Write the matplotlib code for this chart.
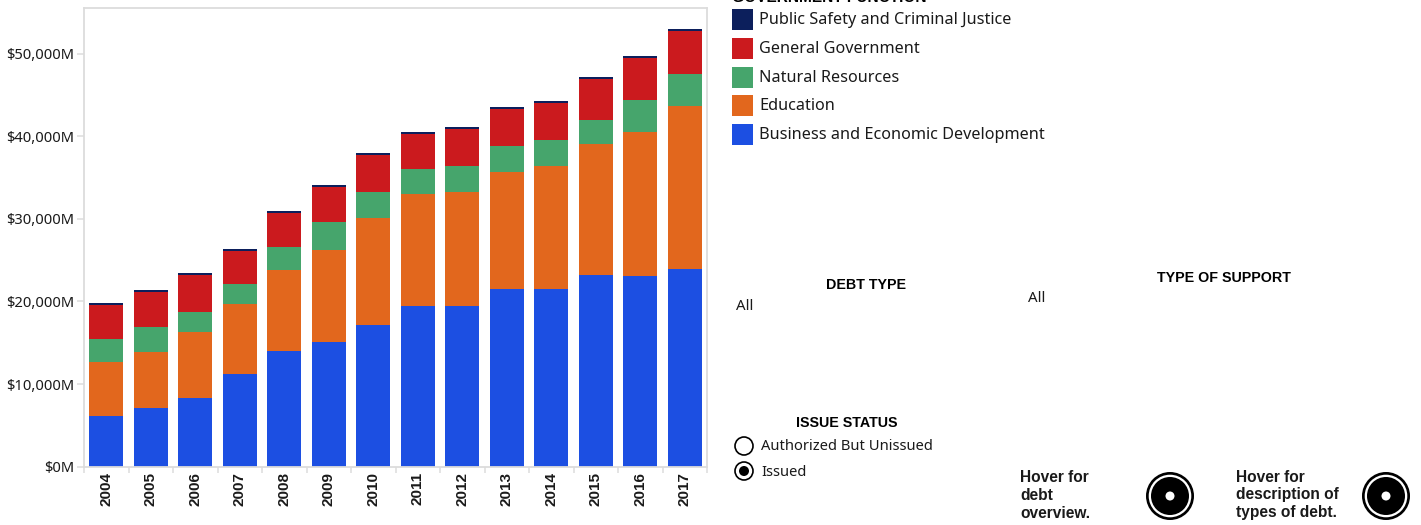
import matplotlib
matplotlib.use("Agg")
import matplotlib.pyplot as plt
from matplotlib.patches import Circle, Rectangle
import numpy as np

W, H = 1421, 525
plt.rcParams['font.family'] = ['Noto Sans', 'DejaVu Sans']
BOLD = "Liberation Sans"

years = [2004, 2005, 2006, 2007, 2008, 2009, 2010, 2011, 2012, 2013, 2014, 2015, 2016, 2017]
business = [6100, 7100, 8300, 11200, 14000, 15100, 17200, 19500, 19400, 21500, 21500, 23200, 23100, 23900]
education = [6600, 6800, 8000, 8500, 9800, 11100, 12900, 13500, 13900, 14200, 14900, 15900, 17400, 19800]
natural = [2700, 3000, 2400, 2400, 2800, 3400, 3200, 3000, 3100, 3100, 3200, 2900, 3900, 3900]
general = [4200, 4300, 4500, 4000, 4100, 4300, 4400, 4300, 4500, 4500, 4400, 4900, 5100, 5100]
public = [250, 250, 250, 250, 250, 250, 250, 250, 250, 250, 250, 250, 250, 250]

series = [("Business and Economic Development", business, "#1c4fe2"),
          ("Education", education, "#e2671d"),
          ("Natural Resources", natural, "#46a56c"),
          ("General Government", general, "#cb1a1e"),
          ("Public Safety and Criminal Justice", public, "#0c1f5c")]
yticks = [0, 10000, 20000, 30000, 40000, 50000]
legend_title = "GOVERNMENT FUNCTION"

FS = 11.7
TXT = "#1a1a1a"

fig = plt.figure(figsize=(W / 100, H / 100), dpi=100, facecolor="white")
L, R, T, B = 84, 707, 8, 466.7
ax = fig.add_axes([L / W, 1 - B / H, (R - L) / W, (B - T) / H])

x = np.arange(len(years))
bottom = np.zeros(len(years))
for name, vals, col in series:
    ax.bar(x, vals, 0.764, bottom=bottom, color=col, linewidth=0)
    bottom += np.array(vals)

ax.set_xlim(-0.5, len(years) - 0.5)
ax.set_ylim(0, 55530)
ax.set_yticks(yticks)
ax.set_yticklabels([f"${v:,}M" for v in yticks], fontsize=10.6, color=TXT)
ax.set_xticks(x)
ax.set_xticklabels(years, rotation=90, fontsize=11, fontweight="bold", color=TXT, family=BOLD)
ax.set_xticks(np.arange(-0.5, len(years)), minor=True)
ax.tick_params(axis="x", which="major", length=0, pad=4)
ax.tick_params(axis="x", which="minor", length=4, width=1.1, color="#dcdcdc")
ax.tick_params(axis="y", length=5, width=1.1, color="#dcdcdc", pad=2)
for s in ["left", "top", "bottom", "right"]:
    ax.spines[s].set_color("#dcdcdc")
    ax.spines[s].set_linewidth(1.3)

ov = fig.add_axes([0, 0, 1, 1], facecolor="none")
ov.set_xlim(0, W)
ov.set_ylim(H, 0)
ov.axis("off")

ov.text(732, 2, legend_title, fontsize=11.2, fontweight="bold", family=BOLD, ha="left", va="baseline", color="black", clip_on=True)
for (name, vals, col), yc in zip(series[::-1], [19, 48, 77, 105, 134]):
    ov.add_patch(Rectangle((732, yc - 10.5), 21, 21, color=col, lw=0))
    ov.text(759, yc + 1, name, fontsize=FS, va="center", ha="left", color=TXT)

for label, xc, yc in [("DEBT TYPE", 866, 285), ("TYPE OF SUPPORT", 1224, 278), ("ISSUE STATUS", 847, 423)]:
    ov.text(xc, yc, label, fontsize=10.3, fontweight="bold", family=BOLD, ha="center", va="center", color="black")
ov.text(736, 306, "All", fontsize=10.8, va="center", color=TXT)
ov.text(1028, 298.5, "All", fontsize=10.8, va="center", color=TXT)

for yc, label, sel in [(446, "Authorized But Unissued", False), (471, "Issued", True)]:
    ov.add_patch(Circle((744, yc), 9, fc="white", ec="black", lw=1.2))
    if sel:
        ov.add_patch(Circle((744, yc), 5, fc="black", lw=0))
    ov.text(761, yc + (0.5 if not sel else 1.5), label, fontsize=10.6, va="center", color=TXT)

for xt, xc, lines in [(1020, 1170, ["Hover for", "debt", "overview."]),
                      (1236, 1386, ["Hover for", "description of", "types of debt."])]:
    for i, t in enumerate(lines):
        ov.text(xt, 477 + i * 18, t, fontsize=11.2, fontweight="bold", family=BOLD, va="center", color=TXT)
    ov.add_patch(Circle((xc, 496), 24, fc="black", lw=0))
    ov.add_patch(Circle((xc, 496), 21.3, fc="white", lw=0))
    ov.add_patch(Circle((xc, 496), 19, fc="black", lw=0))
    ov.add_patch(Circle((xc, 496), 4.5, fc="white", lw=0))

fig.savefig("out.png", dpi=100)
